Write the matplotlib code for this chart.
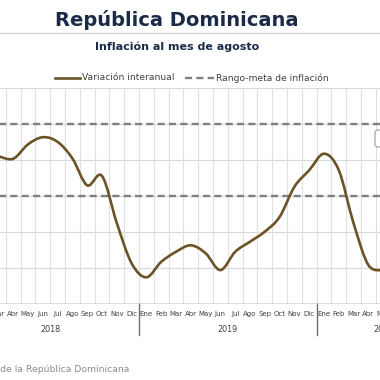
import matplotlib
matplotlib.use("Agg")
import matplotlib.pyplot as plt
from matplotlib.path import Path
from matplotlib.patches import PathPatch, FancyBboxPatch
from matplotlib.lines import Line2D
import numpy as np

plt.rcParams['font.family'] = ['DejaVu Sans']

# ---- data ----
month_names = ["Ene", "Feb", "Mar", "Abr", "May", "Jun", "Jul", "Ago", "Sep", "Oct", "Nov", "Dic"]
years = ["2018", "2019", "2020"]
months_per_year = [12, 12, 8]
first_data_index = 2  # Mar 2018
inflation = [4.10, 4.03, 4.43, 4.63, 4.50, 4.04, 3.29, 3.55, 2.24, 1.12,
             0.73, 1.16, 1.44, 1.62, 1.40, 0.93, 1.44, 1.72, 2.00, 2.41, 3.25, 3.71,
             4.17, 3.71, 2.23, 1.07, 0.93]
target_low = 3.0
target_high = 5.0

labels = []
for y, n in zip(years, months_per_year):
    for m in range(n):
        labels.append(month_names[m])
n_cat = len(labels)

# ---- figure ----
W = H = 380
fig = plt.figure(figsize=(3.8, 3.8), dpi=100)

month_px = 14.8
dec18_center = 131.6
left_px = dec18_center - 11 * month_px - month_px / 2
y0_px, y6_px = 303.5, 88.0
plot_h = y0_px - y6_px
ax = fig.add_axes([left_px / W, (H - y0_px) / H, n_cat * month_px / W, plot_h / H])
ax.set_xlim(-0.5, n_cat - 0.5)
ax.set_ylim(0, 6)

grid_c = "#D9D9D9"
for v in range(0, 7):
    ax.axhline(v, color=grid_c, lw=0.8, zorder=1)
for i in range(n_cat):
    ax.axvline(i + 0.5, color="#E0E0E0", lw=0.8, zorder=1)

for s in ax.spines.values():
    s.set_visible(False)
ax.set_xticks([])
ax.set_yticks([])
ax.axhline(0, color="#6E6E6E", lw=1.0, zorder=3)

# target range
dash_c = "#7F7F7F"
for v in (target_low, target_high):
    ax.axhline(v, color=dash_c, lw=1.7, ls=(0, (3.0, 1.8)), zorder=2)

# smoothed line (Excel-like Bezier through points)
xs = np.arange(first_data_index, first_data_index + len(inflation), dtype=float)
ys = np.array(inflation, dtype=float)
P = np.column_stack([xs, ys])
verts = [P[0]]
codes = [Path.MOVETO]
for i in range(len(P) - 1):
    p0 = P[i - 1] if i > 0 else P[i]
    p1 = P[i]
    p2 = P[i + 1]
    p3 = P[i + 2] if i + 2 < len(P) else P[i + 1]
    c1 = p1 + (p2 - p0) / 6.0
    c2 = p2 - (p3 - p1) / 6.0
    verts += [c1, c2, p2]
    codes += [Path.CURVE4] * 3
line_c = "#6B5326"
ax.add_patch(PathPatch(Path(verts, codes), fill=False, edgecolor=line_c, lw=1.9,
                       zorder=4, capstyle="round", joinstyle="round"))

# month labels and year separators
trans = ax.get_xaxis_transform()
for i, lab in enumerate(labels):
    ax.text(i, -(314 - y0_px) / plot_h, lab, transform=trans, ha="center", va="center",
            fontsize=5.0, color="#404040", clip_on=False)
sep_depth = -(335 - y0_px) / plot_h
start = 0
for y, n in zip(years, months_per_year):
    ax.add_line(Line2D([start - 0.5, start - 0.5], [0, sep_depth], transform=trans,
                       color="#6E6E6E", lw=1.0, clip_on=False))
    ax.text(start + (n - 1) / 2.0 + (0.5 if n < 12 else 0), -(329 - y0_px) / plot_h, y,
            transform=trans, ha="center", va="center", fontsize=5.8, color="#404040", clip_on=False)
    start += n
ax.add_line(Line2D([start - 0.5, start - 0.5], [0, sep_depth], transform=trans,
                   color="#6E6E6E", lw=1.0, clip_on=False))

# partial annotation box at the right edge
box = FancyBboxPatch((375 / W, (H - 147) / H), 30 / W, 17 / H,
                     boxstyle="round,pad=0,rounding_size=0.008", transform=fig.transFigure,
                     facecolor="white", edgecolor="#A6A6A6", lw=0.9, zorder=5)
fig.patches.append(box)

# titles
fig.text(177 / W, 1 - 20 / H, "República Dominicana", ha="center", va="center",
         fontsize=14, fontweight="bold", color="#1B2A47")
fig.add_artist(Line2D([0, 1], [1 - 32.5 / H, 1 - 32.5 / H], color="#D0D0D0", lw=0.9,
                      transform=fig.transFigure))
fig.text(177 / W, 1 - 46.5 / H, "Inflación al mes de agosto", ha="center", va="center",
         fontsize=8, fontweight="bold", color="#1B2A47")

# legend
ly = 1 - 78 / H
fig.add_artist(Line2D([55 / W, 80 / W], [ly, ly], color=line_c, lw=1.9, transform=fig.transFigure))
fig.text(82 / W, ly, "Variación interanual", ha="left", va="center", fontsize=6.6, color="#404040")
fig.add_artist(Line2D([185 / W, 214 / W], [ly, ly], color=dash_c, lw=1.7, ls=(0, (3.0, 1.8)),
                      transform=fig.transFigure))
fig.text(216 / W, ly, "Rango-meta de inflación", ha="left", va="center", fontsize=6.6, color="#404040")

# source
fig.text(129 / W, 1 - 370 / H, "Fuente: Banco Central de la República Dominicana",
         ha="right", va="center", fontsize=6.65, color="#8C8C8C")

fig.savefig("out.png", dpi=100)
